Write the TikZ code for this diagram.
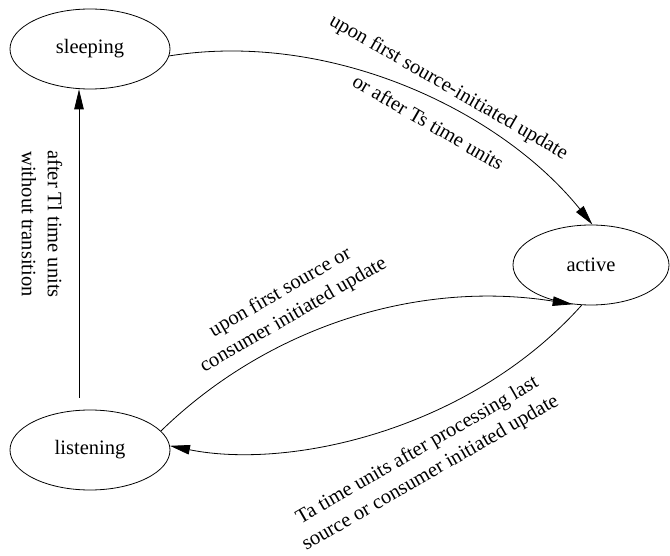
\documentclass[tikz,border=0pt]{standalone}
\usepackage{fontspec}
\setmainfont{Liberation Serif}
\usetikzlibrary{shapes.geometric}
\usetikzlibrary{arrows.meta}
\tikzstyle{state_node}=[ellipse, draw=black, line width=0.8pt, minimum width=160pt, minimum height=80pt, inner sep=0pt, font=\fontsize{20.5}{26}\selectfont]
\tikzstyle{trans_edge}=[draw=black, line width=0.8pt, -{Triangle[length=20pt,width=9.5pt]}]
\tikzstyle{trans_label}=[align=center, inner sep=0pt, font=\fontsize{20.5}{26}\selectfont]

\begin{document}
\begin{tikzpicture}[x=1pt,y=-1pt]
\useasboundingbox (0,0) rectangle (670,556);
\node[state_node] (sleeping) at (90,49){sleeping};
\node[state_node, minimum width=156pt] (active) at (591,265){active};
\node[state_node] (listening) at (90,450){listening};
\draw[trans_edge](sleeping.-5) .. controls (330,30) and (500,110) .. (active.88);
\draw[trans_edge, shorten <=12pt]([xshift=-11pt]listening.north) -- ([xshift=-11pt]sleeping.south);
\draw[trans_edge](listening.15) .. controls (270,325) and (420,280) .. (active.245);
\draw[trans_edge](active.257) .. controls (470,430) and (290,470) .. (listening.3);
\node[trans_label, rotate=-30] (lbl_wake) at (439,104){upon first source-initiated update\\[16pt]or after Ts time units};
\node[trans_label, rotate=-90] (lbl_doze) at (42,224){after Tl time units\\without transition};
\node[trans_label, rotate=30] (lbl_up) at (287,304){upon first source or\\consumer initiated update};
\node[trans_label, rotate=30] (lbl_down) at (424,462){Ta time units after processing last\\source or consumer initiated update};
\end{tikzpicture}
\end{document}
